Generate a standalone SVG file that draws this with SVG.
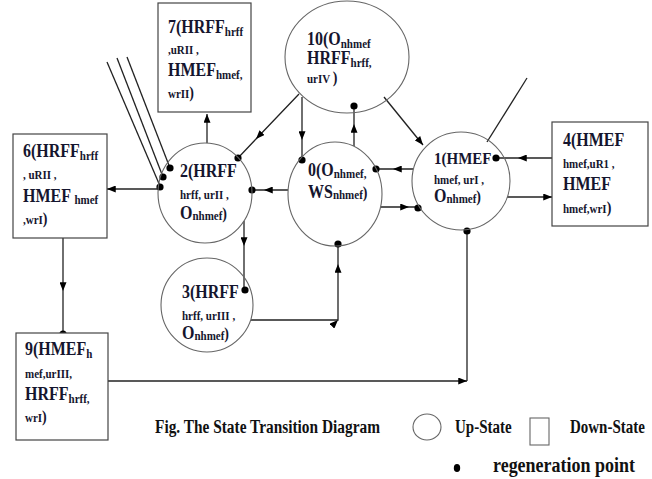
<svg xmlns="http://www.w3.org/2000/svg" width="652" height="479" viewBox="0 0 652 479">
<defs>
<style>
.bg{fill:#ffffff}
.st{fill:none;stroke:#666;stroke-width:1.1}
.bx{fill:#fff;stroke:#444;stroke-width:1.2}
.ln{fill:none;stroke:#222;stroke-width:1.3}
.am{marker-mid:url(#arr)}
.ae{marker-end:url(#arr)}
.dot{fill:#000}
text{font-family:"Liberation Serif","Times New Roman",serif;font-weight:bold;fill:#15152e}
.b{font-size:16px}
.s{font-size:11px}
.m{font-size:14px}
.lg{font-size:15px;fill:#111}
</style>
<marker id="arr" viewBox="0 0 10 8" markerWidth="9" markerHeight="7" refX="10" refY="4" orient="auto" markerUnits="userSpaceOnUse">
<path d="M0,0 L10,4 L0,8 z" fill="#000"/>
</marker>
</defs>
<rect class="bg" x="0" y="0" width="652" height="479"/>

<g id="connectors">
<path class="ln ae" d="M207,143 L207,114"/>
<path class="ln am" d="M299,94 L256,139 L238,158"/>
<path class="ln am" d="M302,97 L302,140 L302,159"/>
<path class="ln am" d="M354,146 L354,124 L354,107"/>
<path class="ln ae" d="M384,97 L423,145"/>
<path class="ln" d="M487,142 L527,78"/>
<path class="ln am" d="M552,158 L518,158 L497,158"/>
<path class="ln ae" d="M507,197 L552,197"/>
<path class="ln am" d="M381,207 L409,207 L418,207"/>
<path class="ln am" d="M413,169 L393,169 L376,169"/>
<path class="ln am" d="M288,190 L264,190 L252,190"/>
<path class="ln ae" d="M158,189 L107,189"/>
<path class="ln" d="M107,62 L160,186"/>
<path class="ln" d="M117,58 L163,177"/>
<path class="ln" d="M127,57 L170,168"/>
<path class="ln am" d="M244,221 L244,246 L244,290"/>
<path class="ln am" d="M251,320 L338,320 L338,264 L338,244"/>
<path class="ln am" d="M63,238 L63,291 L63,334"/>
<path class="ln ae" d="M108,381 L467,381"/>
<path class="ln" d="M467,231 L467,381"/>
<circle class="dot" cx="238" cy="158" r="3.6"/>
<circle class="dot" cx="302" cy="160" r="3.6"/>
<circle class="dot" cx="354" cy="106" r="3.6"/>
<circle class="dot" cx="496" cy="158" r="3.6"/>
<circle class="dot" cx="418" cy="208" r="3.6"/>
<circle class="dot" cx="376" cy="169" r="3.6"/>
<circle class="dot" cx="252" cy="190" r="3.6"/>
<circle class="dot" cx="160" cy="187" r="3.6"/>
<circle class="dot" cx="163" cy="177" r="3.6"/>
<circle class="dot" cx="170" cy="168" r="3.6"/>
<circle class="dot" cx="245" cy="290" r="3.6"/>
<circle class="dot" cx="338" cy="244" r="3.6"/>
<circle class="dot" cx="63" cy="334" r="3.6"/>
<circle class="dot" cx="467" cy="231" r="3.6"/>
</g>

<g id="n7">
<rect class="bx" x="158" y="3" width="93" height="109"/>
<text x="168" y="33" transform="matrix(1,0,0,1.15,0,-4.95)"><tspan class="b">7(HRFF</tspan><tspan class="s" dy="3">hrff</tspan></text>
<text class="s" x="168" y="54" transform="matrix(1,0,0,1.15,0,-8.1)">,uRII ,</text>
<text x="168" y="76" transform="matrix(1,0,0,1.15,0,-11.4)"><tspan class="b">HMEF</tspan><tspan class="s" dy="3">hmef,</tspan></text>
<text x="168" y="98" transform="matrix(1,0,0,1.15,0,-14.7)"><tspan class="s">wrII</tspan><tspan class="m">)</tspan></text>
</g>

<g id="n10">
<ellipse class="st" cx="347" cy="57" rx="62" ry="56"/>
<text x="307" y="45" transform="matrix(1,0,0,1.15,0,-6.75)"><tspan class="b">10(O</tspan><tspan class="s" dy="3">nhmef</tspan></text>
<text x="307" y="64" transform="matrix(1,0,0,1.15,0,-9.6)"><tspan class="b">HRFF</tspan><tspan class="s" dy="3">hrff,</tspan></text>
<text x="307" y="83" transform="matrix(1,0,0,1.15,0,-12.45)"><tspan class="s">urIV </tspan><tspan class="m">)</tspan></text>
</g>

<g id="n6">
<rect class="bx" x="13" y="134" width="94" height="104"/>
<text x="23" y="157" transform="matrix(1,0,0,1.15,0,-23.55)"><tspan class="b">6(HRFF</tspan><tspan class="s" dy="3">hrff</tspan></text>
<text class="s" x="23" y="179" transform="matrix(1,0,0,1.15,0,-26.85)">, uRII ,</text>
<text x="23" y="202" transform="matrix(1,0,0,1.15,0,-30.3)"><tspan class="b">HMEF </tspan><tspan class="s" dy="2">hmef</tspan></text>
<text x="23" y="224" transform="matrix(1,0,0,1.15,0,-33.6)"><tspan class="s">,wrI</tspan><tspan class="m">)</tspan></text>
</g>

<g id="n2">
<ellipse class="st" cx="205" cy="193" rx="47" ry="50"/>
<text class="b" x="180" y="177" transform="matrix(1,0,0,1.15,0,-26.55)">2(HRFF</text>
<text class="s" x="180" y="199" transform="matrix(1,0,0,1.15,0,-29.85)">hrff, urII ,</text>
<text x="180" y="219" transform="matrix(1,0,0,1.15,0,-32.85)"><tspan class="b">O</tspan><tspan class="s" dy="1">nhmef</tspan><tspan class="m" dy="-1">)</tspan></text>
</g>

<g id="n0">
<ellipse class="st" cx="335" cy="194" rx="47" ry="52"/>
<text x="308" y="176" transform="matrix(1,0,0,1.15,0,-26.4)"><tspan class="b">0(O</tspan><tspan class="s" dy="2">nhmef,</tspan></text>
<text x="308" y="198" transform="matrix(1,0,0,1.15,0,-29.7)"><tspan class="b">WS</tspan><tspan class="s" dy="1">nhmef</tspan><tspan class="m" dy="-1">)</tspan></text>
</g>

<g id="n1">
<ellipse class="st" cx="461" cy="181" rx="49" ry="49"/>
<text x="434" y="164" style="font-size:15px" transform="matrix(1,0,0,1.15,0,-24.6)">1(HMEF</text>
<text class="s" x="434" y="184" transform="matrix(1,0,0,1.15,0,-27.6)">hmef, urI ,</text>
<text x="434" y="202" transform="matrix(1,0,0,1.15,0,-30.3)"><tspan class="b">O</tspan><tspan class="s" dy="1">nhmef</tspan><tspan class="m" dy="-1">)</tspan></text>
</g>

<g id="n4">
<rect class="bx" x="552" y="122" width="96" height="104"/>
<text class="b" x="563" y="146" transform="matrix(1,0,0,1.15,0,-21.9)">4(HMEF</text>
<text class="s" x="563" y="168" transform="matrix(1,0,0,1.15,0,-25.2)">hmef,uR1 ,</text>
<text class="b" x="563" y="190" transform="matrix(1,0,0,1.15,0,-28.5)">HMEF</text>
<text x="563" y="213" transform="matrix(1,0,0,1.15,0,-31.95)"><tspan class="s">hmef,wrI</tspan><tspan class="m">)</tspan></text>
</g>

<g id="n3">
<ellipse class="st" cx="207" cy="305" rx="46" ry="47"/>
<text class="b" x="182" y="298" transform="matrix(1,0,0,1.15,0,-44.7)">3(HRFF</text>
<text class="s" x="182" y="320" transform="matrix(1,0,0,1.15,0,-48)">hrff, urIII ,</text>
<text x="182" y="339" transform="matrix(1,0,0,1.15,0,-50.85)"><tspan class="b">O</tspan><tspan class="s" dy="1">nhmef</tspan><tspan class="m" dy="-1">)</tspan></text>
</g>

<g id="n9">
<rect class="bx" x="16" y="333" width="92" height="107"/>
<text x="25" y="355" transform="matrix(1,0,0,1.15,0,-53.25)"><tspan class="b">9(HMEF</tspan><tspan class="s" dy="3">h</tspan></text>
<text class="s" x="25" y="378" transform="matrix(1,0,0,1.15,0,-56.7)">mef,urIII,</text>
<text x="25" y="400" transform="matrix(1,0,0,1.15,0,-60)"><tspan class="b">HRFF</tspan><tspan class="s" dy="3">hrff,</tspan></text>
<text x="25" y="422" transform="matrix(1,0,0,1.15,0,-63.3)"><tspan class="s">wrI</tspan><tspan class="m">)</tspan></text>
</g>

<g id="legend">
<text class="lg" x="155" y="433" textLength="225" lengthAdjust="spacingAndGlyphs" transform="matrix(1,0,0,1.3,0,-129.9)">Fig. The State Transition  Diagram</text>
<ellipse class="st" cx="427" cy="427" rx="14" ry="13"/>
<text class="lg" x="455" y="433" transform="matrix(1,0,0,1.3,0,-129.9)">Up-State</text>
<rect class="st" x="530" y="418" width="19" height="27"/>
<text class="lg" x="570" y="433" transform="matrix(1,0,0,1.3,0,-129.9)">Down-State</text>
<ellipse class="dot" cx="457" cy="468" rx="3.2" ry="4"/>
<text class="lg" x="493" y="472" style="font-size:17px" textLength="142" lengthAdjust="spacingAndGlyphs" transform="matrix(1,0,0,1.2,0,-94.4)">regeneration point</text>
</g>
</svg>
